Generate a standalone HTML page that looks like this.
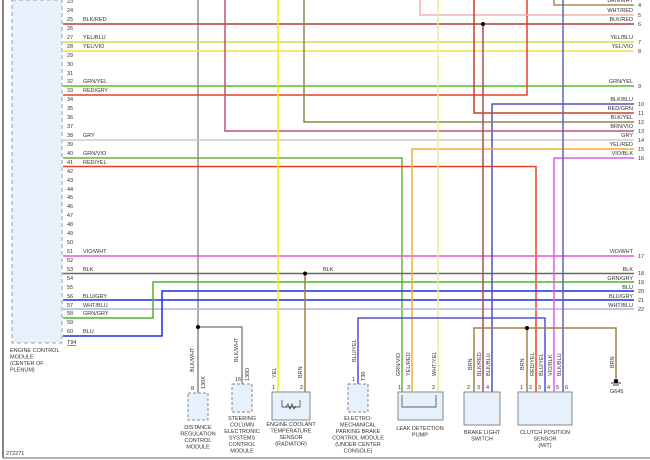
<!DOCTYPE html>
<html><head><meta charset="utf-8"><style>
html,body{margin:0;padding:0;background:#fff;}
svg{display:block;font-family:"Liberation Sans",sans-serif;}
.t{font-size:5.5px;fill:#333;}
.c{font-size:5.5px;fill:#333;text-anchor:middle;}
.r{font-size:5.5px;fill:#333;text-anchor:end;}
.w{fill:none;stroke-width:1.5;}
</style></head><body>
<svg width="650" height="460" viewBox="0 0 650 460">
<rect x="0" y="0" width="650" height="460" fill="#fff"/>
<line x1="3" y1="0" x2="3" y2="458" stroke="#333" stroke-width="1.2"/>
<line x1="3" y1="458" x2="650" y2="458" stroke="#888" stroke-width="1.2"/>
<rect x="12" y="0" width="50" height="343" fill="#e6f1fb" stroke="#888" stroke-width="0.8" stroke-dasharray="4,3"/>
<g class="t">
<text x="10" y="352">ENGINE CONTROL</text><text x="10" y="358.5">MODULE</text><text x="10" y="365">(CENTER OF</text><text x="10" y="371.5">PLENUM)</text>
<text x="6" y="455">272271</text>
</g>
<!-- pin numbers -->
<g class="t">
<text x="67" y="3">23</text><text x="67" y="12">24</text><text x="67" y="21">25</text><text x="67" y="30">26</text><text x="67" y="39">27</text><text x="67" y="48">28</text><text x="67" y="57">29</text><text x="67" y="66">30</text><text x="67" y="75">31</text><text x="67" y="83">32</text><text x="67" y="92">33</text><text x="67" y="101">34</text><text x="67" y="110">35</text><text x="67" y="119">36</text><text x="67" y="128">37</text><text x="67" y="137">38</text><text x="67" y="146">39</text><text x="67" y="155">40</text><text x="67" y="164">41</text><text x="67" y="173">42</text><text x="67" y="182">43</text><text x="67" y="191">44</text><text x="67" y="199">45</text><text x="67" y="208">46</text><text x="67" y="217">47</text><text x="67" y="226">48</text><text x="67" y="235">49</text><text x="67" y="244">50</text><text x="67" y="253">51</text><text x="67" y="262">52</text><text x="67" y="271">53</text><text x="67" y="280">54</text><text x="67" y="289">55</text><text x="67" y="298">56</text><text x="67" y="307">57</text><text x="67" y="315">58</text><text x="67" y="324">59</text><text x="67" y="333">60</text>
<text x="67" y="344" style="text-decoration:underline">T94</text>
</g>
<!-- wire labels left -->
<g class="t">
<text x="83" y="21">BLK/RED</text><text x="83" y="39">YEL/BLU</text><text x="83" y="48">YEL/VIO</text><text x="83" y="83">GRN/YEL</text><text x="83" y="92">RED/GRY</text><text x="83" y="137">GRY</text><text x="83" y="155">GRN/VIO</text><text x="83" y="164">RED/YEL</text><text x="83" y="253">VIO/WHT</text><text x="83" y="271">BLK</text><text x="323" y="271">BLK</text><text x="83" y="298">BLU/GRY</text><text x="83" y="307">WHT/BLU</text><text x="83" y="315">GRN/GRY</text><text x="83" y="333">BLU</text>
</g>
<!-- right labels -->
<g class="r">
<text x="633" y="2">BRN/WHT</text><text x="633" y="12">WHT/RED</text><text x="633" y="21">BLK/RED</text><text x="633" y="39">YEL/BLU</text><text x="633" y="48">YEL/VIO</text><text x="633" y="83">GRN/YEL</text><text x="633" y="101">BLK/BLU</text><text x="633" y="110">RED/GRN</text><text x="633" y="119">BLK/YEL</text><text x="633" y="128">BRN/VIO</text><text x="633" y="137">GRY</text><text x="633" y="146">YEL/RED</text><text x="633" y="155">VIO/BLK</text><text x="633" y="253">VIO/WHT</text><text x="633" y="271">BLK</text><text x="633" y="280">GRN/GRY</text><text x="633" y="289">BLU</text><text x="633" y="298">BLU/GRY</text><text x="633" y="307">WHT/BLU</text>
</g>
<g class="t">
<text x="638" y="7">4</text><text x="638" y="17">5</text><text x="638" y="26">6</text><text x="638" y="44">7</text><text x="638" y="53">8</text><text x="638" y="88">9</text><text x="638" y="106">10</text><text x="638" y="115">11</text><text x="638" y="124">12</text><text x="638" y="133">13</text><text x="638" y="142">14</text><text x="638" y="151">15</text><text x="638" y="160">16</text><text x="638" y="258">17</text><text x="638" y="275">18</text><text x="638" y="284">19</text><text x="638" y="293">20</text><text x="638" y="302">21</text><text x="638" y="311">22</text>
</g>
<!-- vertical frame line -->
<line x1="198" y1="0" x2="198" y2="327" stroke="#777" stroke-width="1.2"/>
<!-- horizontal wires -->
<g class="w">
<path d="M63 24H634" stroke="#b04040"/>
<path d="M63 42H634" stroke="#d8d84a"/>
<path d="M63 51H634" stroke="#f0e040"/>
<path d="M63 86H634" stroke="#55c020"/>
<path d="M63 95H527V0" stroke="#e04030"/>
<path d="M63 140H634" stroke="#cccccc"/>
<path d="M63 158H402V392" stroke="#6cb040"/>
<path d="M63 166.5H536V392" stroke="#f04020"/>
<path d="M63 256H634" stroke="#f050d0"/>
<path d="M63 273.5H634" stroke="#666"/>
<path d="M63 300H634" stroke="#1a30e0"/>
<path d="M63 309H634" stroke="#b0b0e0"/>
<path d="M63 318H153V282H634" stroke="#50b030"/>
<path d="M63 336H162V291H634" stroke="#1a30e0"/>
<path d="M554 0V5H634" stroke="#a09050"/>
<path d="M420 0V15H634" stroke="#f4b0b0"/>
<path d="M492 392V104H634" stroke="#5050c0"/>
<path d="M474 0V113H634" stroke="#c04030"/>
<path d="M304 0V122H634" stroke="#888850"/>
<path d="M225 0V131H634" stroke="#c05070"/>
<path d="M412 392V149H634" stroke="#f0b030"/>
<path d="M554 392V158H634" stroke="#e060e0"/>
<path d="M278 0V392" stroke="#f8f000"/>
<path d="M438 0V392" stroke="#eeee90"/>
<path d="M563 0V392" stroke="#6060c0"/>
<path d="M483 24V392" stroke="#a05050"/>
<path d="M305 273.5V392" stroke="#a08040"/>
<path d="M545 392V318H358V384" stroke="#5050d0"/>
<path d="M474 392V328H616V378" stroke="#a08040"/>
<path d="M527 328V392" stroke="#a08040"/>
<path d="M198 327V393" stroke="#888"/>
<path d="M198 327H242V384" stroke="#888"/>
</g>
<g fill="#000">
<circle cx="483" cy="24" r="2"/><circle cx="305" cy="273.5" r="2"/><circle cx="198" cy="327" r="2"/><circle cx="527" cy="328" r="2"/>
<circle cx="616" cy="381" r="2.2"/>
</g>
<path d="M611 383h10M613 385h6" stroke="#000" stroke-width="0.8"/>
<text class="t" x="610" y="393">G645</text>
<!-- components -->
<g stroke="#888" stroke-width="1" fill="#e6f1fb">
<rect x="188" y="393" width="20" height="27" stroke-dasharray="3,2"/>
<rect x="232" y="384" width="20" height="28" stroke-dasharray="3,2"/>
<rect x="272" y="392" width="38" height="28"/>
<rect x="348" y="384" width="20" height="28" stroke-dasharray="3,2"/>
<rect x="398" y="392" width="45" height="28"/>
<rect x="464" y="392" width="36" height="33"/>
<rect x="518" y="392" width="54" height="33"/>
</g>
<path d="M282 400V407H300V400M286 407l2-3 2 5 2-5 2 5 2-3" stroke="#333" fill="none" stroke-width="0.7"/>
<path d="M402 395V407H436V395M412 407h12" stroke="#333" fill="none" stroke-width="0.7"/>
<!-- rotated wire labels -->
<g class="t">
<text transform="translate(194,372) rotate(-90)">BLK/WHT</text>
<text transform="translate(238,362) rotate(-90)">BLK/WHT</text>
<text transform="translate(276,378) rotate(-90)">YEL</text>
<text transform="translate(302,378) rotate(-90)">BRN</text>
<text transform="translate(356,362) rotate(-90)">BLU/YEL</text>
<text transform="translate(400,376) rotate(-90)">GRN/VIO</text>
<text transform="translate(410,376) rotate(-90)">YEL/RED</text>
<text transform="translate(436,376) rotate(-90)">WHT/YEL</text>
<text transform="translate(472,370) rotate(-90)">BRN</text>
<text transform="translate(481,376) rotate(-90)">BLK/RED</text>
<text transform="translate(490,376) rotate(-90)">BLK/BLU</text>
<text transform="translate(524,370) rotate(-90)">BRN</text>
<text transform="translate(534,376) rotate(-90)">RED/YEL</text>
<text transform="translate(543,376) rotate(-90)">BLU/YEL</text>
<text transform="translate(552,376) rotate(-90)">VIO/BLK</text>
<text transform="translate(561,376) rotate(-90)">BLK/BLU</text>
<text transform="translate(614,368) rotate(-90)">BRN</text>
<text transform="translate(205,389) rotate(-90)">130X</text>
<text transform="translate(249,381) rotate(-90)">130D</text>
<text transform="translate(365,381) rotate(-90)">T30</text>
<text x="191" y="390">8</text><text x="235" y="381">16</text><text x="272" y="389">1</text><text x="300" y="389">2</text><text x="352" y="381">1</text>
<text x="398" y="389">1</text><text x="407" y="389">3</text><text x="432" y="389">2</text>
<text x="467" y="389">2</text><text x="477" y="389">3</text><text x="486" y="389">4</text>
<text x="520" y="389">1</text><text x="529" y="389">2</text><text x="538" y="389">3</text><text x="547" y="389">4</text><text x="556" y="389">5</text><text x="565" y="389">6</text>
</g>
<g class="c">
<text x="198" y="429">DISTANCE</text><text x="198" y="435.5">REGULATION</text><text x="198" y="442">CONTROL</text><text x="198" y="448.5">MODULE</text>
<text x="242" y="420">STEERING</text><text x="242" y="426.5">COLUMN</text><text x="242" y="433">ELECTRONIC</text><text x="242" y="439.5">SYSTEMS</text><text x="242" y="446">CONTROL</text><text x="242" y="452.5">MODULE</text>
<text x="291" y="426">ENGINE COOLANT</text><text x="291" y="432.5">TEMPERATURE</text><text x="291" y="439">SENSOR</text><text x="291" y="445.5">(RADIATOR)</text>
<text x="358" y="420">ELECTRO-</text><text x="358" y="426.5">MECHANICAL</text><text x="358" y="433">PARKING BRAKE</text><text x="358" y="439.5">CONTROL MODULE</text><text x="358" y="446">(UNDER CENTER</text><text x="358" y="452.5">CONSOLE)</text>
<text x="420" y="430">LEAK DETECTION</text><text x="420" y="436.5">PUMP</text>
<text x="482" y="434">BRAKE LIGHT</text><text x="482" y="440.5">SWITCH</text>
<text x="545" y="434">CLUTCH POSITION</text><text x="545" y="440.5">SENSOR</text><text x="545" y="447">(M/T)</text>
</g>
</svg>
</body></html>
